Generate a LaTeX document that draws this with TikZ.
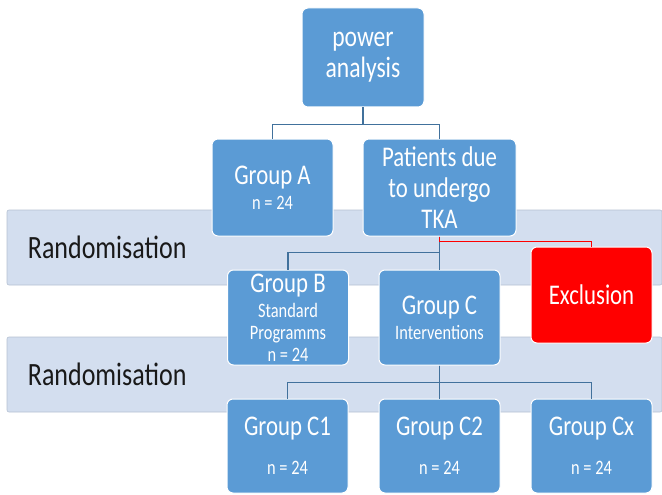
\documentclass[tikz,border=0pt]{standalone}
\usepackage{fontspec}
\setmainfont[FakeStretch=0.8]{Carlito}
\usetikzlibrary{positioning}
\definecolor{boxblue}{HTML}{5B9BD5}
\definecolor{bandblue}{HTML}{D3DEEF}
\definecolor{bandline}{HTML}{B4C0D2}
\definecolor{linkblue}{HTML}{41719C}
\definecolor{exred}{HTML}{FF0000}
\newcommand\bigtxt{\fontsize{28.5}{30}\selectfont}
\newcommand\smalltxt{\fontsize{20.5}{22}\selectfont}
\tikzstyle{box} = [rectangle, rounded corners=6pt, fill=boxblue, draw=white, line width=1pt, text=white, align=center, inner sep=0pt, minimum width=121pt, minimum height=95pt, font=\smalltxt]
\tikzstyle{band} = [rectangle, rounded corners=2pt, fill=bandblue, draw=bandline, line width=0.6pt, minimum width=655pt, minimum height=75pt, inner sep=0pt]
\tikzstyle{bandtext} = [font=\fontsize{32.5}{34}\selectfont, text=black!90, inner sep=0pt, anchor=west]
\tikzstyle{link} = [draw=linkblue, line width=1.2pt]
\tikzstyle{redlink} = [draw=exred, line width=1.6pt]

\begin{document}
\begin{tikzpicture}[x=1pt, y=-1pt, node distance=130pt]
\useasboundingbox (0,0) rectangle (662,495);

% Bands
\node (rand1) [band] at (334.5,247.5) {};
\node (rand1text) [bandtext] at ([xshift=21pt]rand1.west) {Randomisation};
\node (rand2) [band] at (334.5,374.5) {};
\node (rand2text) [bandtext] at ([xshift=21pt]rand2.west) {Randomisation};

% Nodes
\node (power) [box, minimum width=122pt, minimum height=99pt, font=\fontsize{29.5}{31}\selectfont] at (363,57.5) {power\\analysis};
\node (patients) [box, below of=power, xshift=76.5pt, minimum width=153pt, minimum height=97pt, font=\fontsize{28.5}{31}\selectfont] {Patients due\\to undergo\\TKA};
\node (groupA) [box, below of=power, xshift=-90.5pt, minimum height=97pt] {{\bigtxt Group A}\\[3pt]n = 24};
\node (groupC) [box, below of=patients] {{\bigtxt Group C}\\[3pt]Interventions};
\node (groupB) [box, left of=groupC, xshift=-21.5pt] {{\bigtxt Group B}\\[3pt]Standard\\Programms\\n = 24};
\node (exclusion) [box, right of=groupC, xshift=22pt, yshift=22.5pt, fill=exred, minimum height=96pt, font=\bigtxt] {Exclusion};
\node (groupC2) [box, below of=groupC, yshift=1.5pt, minimum height=94pt] {{\bigtxt Group C2}\\[17pt]n = 24};
\node (groupC1) [box, left of=groupC2, xshift=-22pt, minimum height=94pt] {{\bigtxt Group C1}\\[17pt]n = 24};
\node (groupCx) [box, right of=groupC2, xshift=22pt, minimum height=94pt] {{\bigtxt Group Cx}\\[17pt]n = 24};

% Lines
\draw [link] (power.south) -- ++(0,17) -| (groupA.north);
\draw [link] (power.south) -- ++(0,17) -| (patients.north);
\draw [link] (patients.south) -- ++(0,16) -| (groupB.north);
\draw [link] (patients.south) -- (groupC.north);
\draw [link] (groupC.south) -- ++(0,17) -| (groupC1.north);
\draw [link] (groupC.south) -- (groupC2.north);
\draw [link] (groupC.south) -- ++(0,17) -| (groupCx.north);
\draw [redlink] (patients.south) -- ++(0,5) -| (exclusion.north);

\end{tikzpicture}
\end{document}
